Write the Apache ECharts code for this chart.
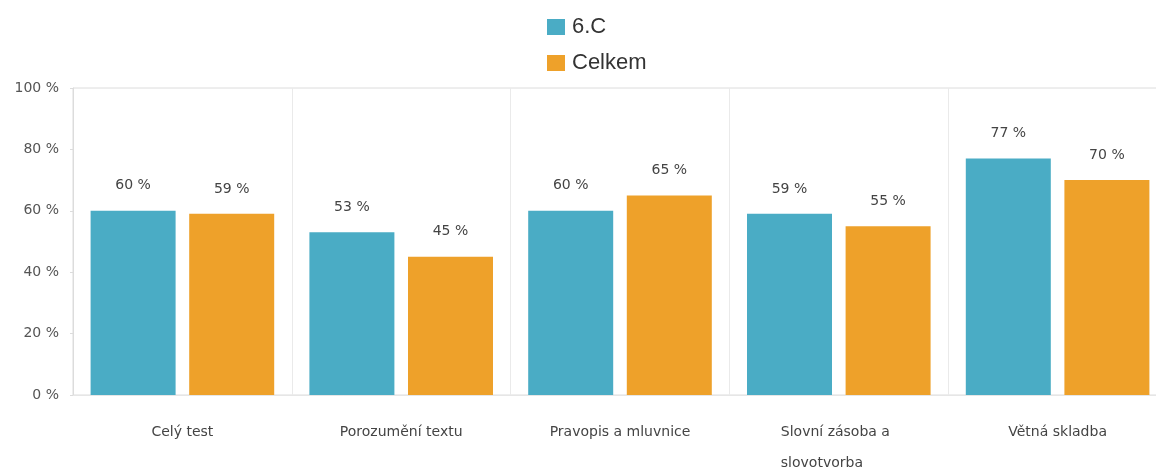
<!DOCTYPE html>
<html>
<head>
<meta charset="utf-8">
<script src="https://cdn.jsdelivr.net/npm/echarts@6/dist/echarts.min.js"></script>
<style>
html,body{margin:0;padding:0;background:#fff;}
#chart{width:1156px;height:470px;}
</style>
</head>
<body>
<div id="chart"></div>
<script>
var categories = ['Celý test', 'Porozumění textu', 'Pravopis a mluvnice', 'Slovní zásoba a\nslovotvorba', 'Větná skladba'];
var seriesNames = ['6.C', 'Celkem'];
var class6C = [60, 53, 60, 59, 77];
var total = [59, 45, 65, 55, 70];
var yTicks = { min: 0, max: 100, interval: 20 };

var smallFont = 'DejaVu Sans, Verdana, sans-serif';
var smallSize = 14;
var chart = echarts.init(document.getElementById('chart'), null, { renderer: 'canvas' });
var labelStyle = {
  show: true, position: 'top', distance: 18,
  formatter: '{c} %', color: '#444', fontSize: smallSize, fontFamily: smallFont
};
chart.setOption({
  animation: false,
  color: ['#4aacc5', '#eea12a'],
  legend: {
    orient: 'vertical', left: 542, top: 11, padding: 5,
    itemWidth: 18, itemHeight: 16, itemGap: 14,
    icon: 'rect',
    textStyle: { fontSize: 22, color: '#333', fontFamily: 'Liberation Sans, Arial, sans-serif', padding: [0, 0, 0, 2] },
    data: seriesNames
  },
  grid: {
    left: 73, right: -11, top: 88, bottom: 75,
    containLabel: false, outerBoundsMode: 'none',
    show: true, borderColor: '#dcdcdc', borderWidth: 1
  },
  xAxis: {
    type: 'category', data: categories,
    axisLine: { show: true, lineStyle: { color: '#e6e6e6' } },
    axisTick: { show: false },
    splitLine: { show: true, lineStyle: { color: '#eaeaea' } },
    axisLabel: {
      margin: 22, fontSize: smallSize, color: '#444', lineHeight: 31, fontFamily: smallFont,
      formatter: function (v) {
        if (v.indexOf('\n') < 0) return v;
        return v.split('\n').map(function (s) { return '{l|' + s + '}'; }).join('\n');
      },
      rich: { l: { width: 116, align: 'left', fontSize: smallSize, lineHeight: 31, color: '#444', fontFamily: smallFont } }
    }
  },
  yAxis: {
    type: 'value', min: yTicks.min, max: yTicks.max, interval: yTicks.interval,
    axisLine: { show: true, lineStyle: { color: '#dcdcdc' } },
    axisTick: { show: true, length: 3, lineStyle: { color: '#dcdcdc' } },
    splitLine: { show: false },
    axisLabel: { formatter: '{value} %', fontSize: smallSize, color: '#555', margin: 14, fontFamily: smallFont }
  },
  series: [
    { name: seriesNames[0], type: 'bar', data: class6C, barWidth: 85, barGap: '16%', label: labelStyle },
    { name: seriesNames[1], type: 'bar', data: total, barWidth: 85, label: labelStyle }
  ]
});
</script>
</body>
</html>
